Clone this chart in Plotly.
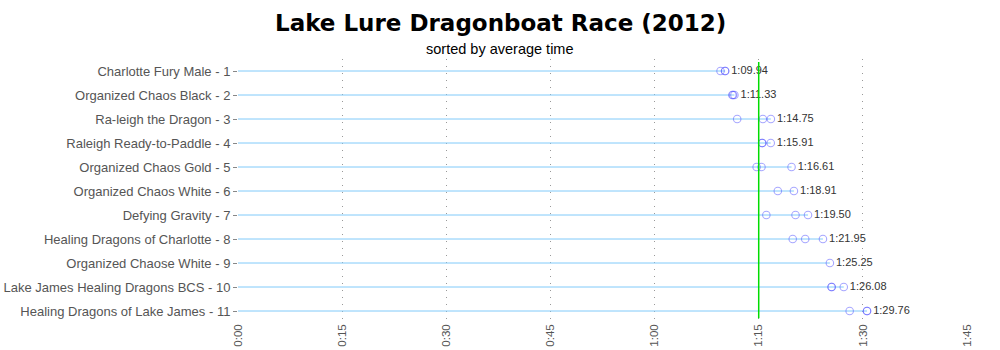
import plotly.graph_objects as go

# ---- data ----
teams = [
    "Charlotte Fury Male - 1",
    "Organized Chaos Black - 2",
    "Ra-leigh the Dragon - 3",
    "Raleigh Ready-to-Paddle - 4",
    "Organized Chaos Gold - 5",
    "Organized Chaos White - 6",
    "Defying Gravity - 7",
    "Healing Dragons of Charlotte - 8",
    "Organized Chaose White - 9",
    "Lake James Healing Dragons BCS - 10",
    "Healing Dragons of Lake James - 11",
]
# individual heat times in seconds
heat_times = [
    [69.50, 70.16, 70.16],
    [71.20, 71.30, 71.50],
    [71.90, 75.60, 76.75],
    [75.50, 75.50, 76.73],
    [74.70, 75.40, 79.73],
    [77.75, 80.07],
    [76.10, 80.30, 82.10],
    [79.90, 81.70, 84.25],
    [85.25],
    [85.50, 85.50, 87.25],
    [88.10, 90.60, 90.60],
]
avg_labels = ["1:09.94", "1:11.33", "1:14.75", "1:15.91", "1:16.61", "1:18.91",
              "1:19.50", "1:21.95", "1:25.25", "1:26.08", "1:29.76"]
reference_time = 75
tick_vals = [0, 15, 30, 45, 60, 75, 90, 105]
tick_text = ["0:00", "0:15", "0:30", "0:45", "1:00", "1:15", "1:30", "1:45"]

# ---- layout constants ----
W, H = 1000, 350
ML, MR, MT, MB = 238, 33, 59, 27
FONT = "Liberation Sans, Arial, sans-serif"
TITLE_FONT = "DejaVu Sans, Verdana, sans-serif"

fig = go.Figure()

# lines from 0 to the slowest time
for team, times in zip(teams, heat_times):
    fig.add_trace(go.Scatter(
        x=[0, max(times)], y=[team, team], mode="lines",
        line=dict(color="#80CAFA", width=1), hoverinfo="skip", showlegend=False))

# heat markers
xs, ys = [], []
for team, times in zip(teams, heat_times):
    for t in times:
        xs.append(t)
        ys.append(team)
fig.add_trace(go.Scatter(
    x=xs, y=ys, mode="markers",
    marker=dict(symbol="circle-open", size=7.5, color="rgba(80,80,255,0.5)",
                line=dict(width=1.1)),
    showlegend=False))

# average labels
fig.add_trace(go.Scatter(
    x=[max(t) for t in heat_times], y=teams, mode="text",
    text=["  " + s for s in avg_labels], textposition="middle right",
    textfont=dict(family=FONT, size=11, color="#333333"),
    showlegend=False, hoverinfo="skip"))

fig.add_shape(type="line", x0=reference_time, x1=reference_time, y0=-0.38, y1=10.3,
              xref="x", yref="y", line=dict(color="#00dd00", width=1.5), layer="above")

plot_h = H - MT - MB
plot_w = W - ML - MR
fig.add_annotation(text="<b>Lake Lure Dragonboat Race (2012)</b>", xref="paper", yref="paper",
                   x=(W / 2 - ML) / plot_w, y=(H - MB - 23) / plot_h,
                   xanchor="center", yanchor="middle", showarrow=False,
                   font=dict(family=TITLE_FONT, size=23, color="black"))
fig.add_annotation(text="sorted by average time", xref="paper", yref="paper",
                   x=(W / 2 - ML) / plot_w, y=(H - MB - 49) / plot_h,
                   xanchor="center", yanchor="middle", showarrow=False,
                   font=dict(family=FONT, size=14.5, color="black"))

fig.update_layout(
    width=W, height=H,
    margin=dict(l=ML, r=MR, t=MT, b=MB),
    paper_bgcolor="white", plot_bgcolor="white",
    font=dict(family=FONT),
    xaxis=dict(range=[0, 105], tickvals=tick_vals, ticktext=tick_text, tickangle=-90,
               showgrid=True, gridcolor="#999999", griddash="1px,6px", gridwidth=1,
               zeroline=False, showline=False, ticks="", ticklabelstandoff=-2,
               tickfont=dict(family=FONT, size=11.5, color="#555555"), automargin=False),
    yaxis=dict(type="category", categoryorder="array", categoryarray=teams,
               range=[10.5, -0.5], showgrid=False, zeroline=False, showline=False,
               ticks="outside", ticklen=4, tickcolor="#888888",
               tickfont=dict(family=FONT, size=13, color="#555555"), automargin=False),
)

fig.write_html("out.html")
